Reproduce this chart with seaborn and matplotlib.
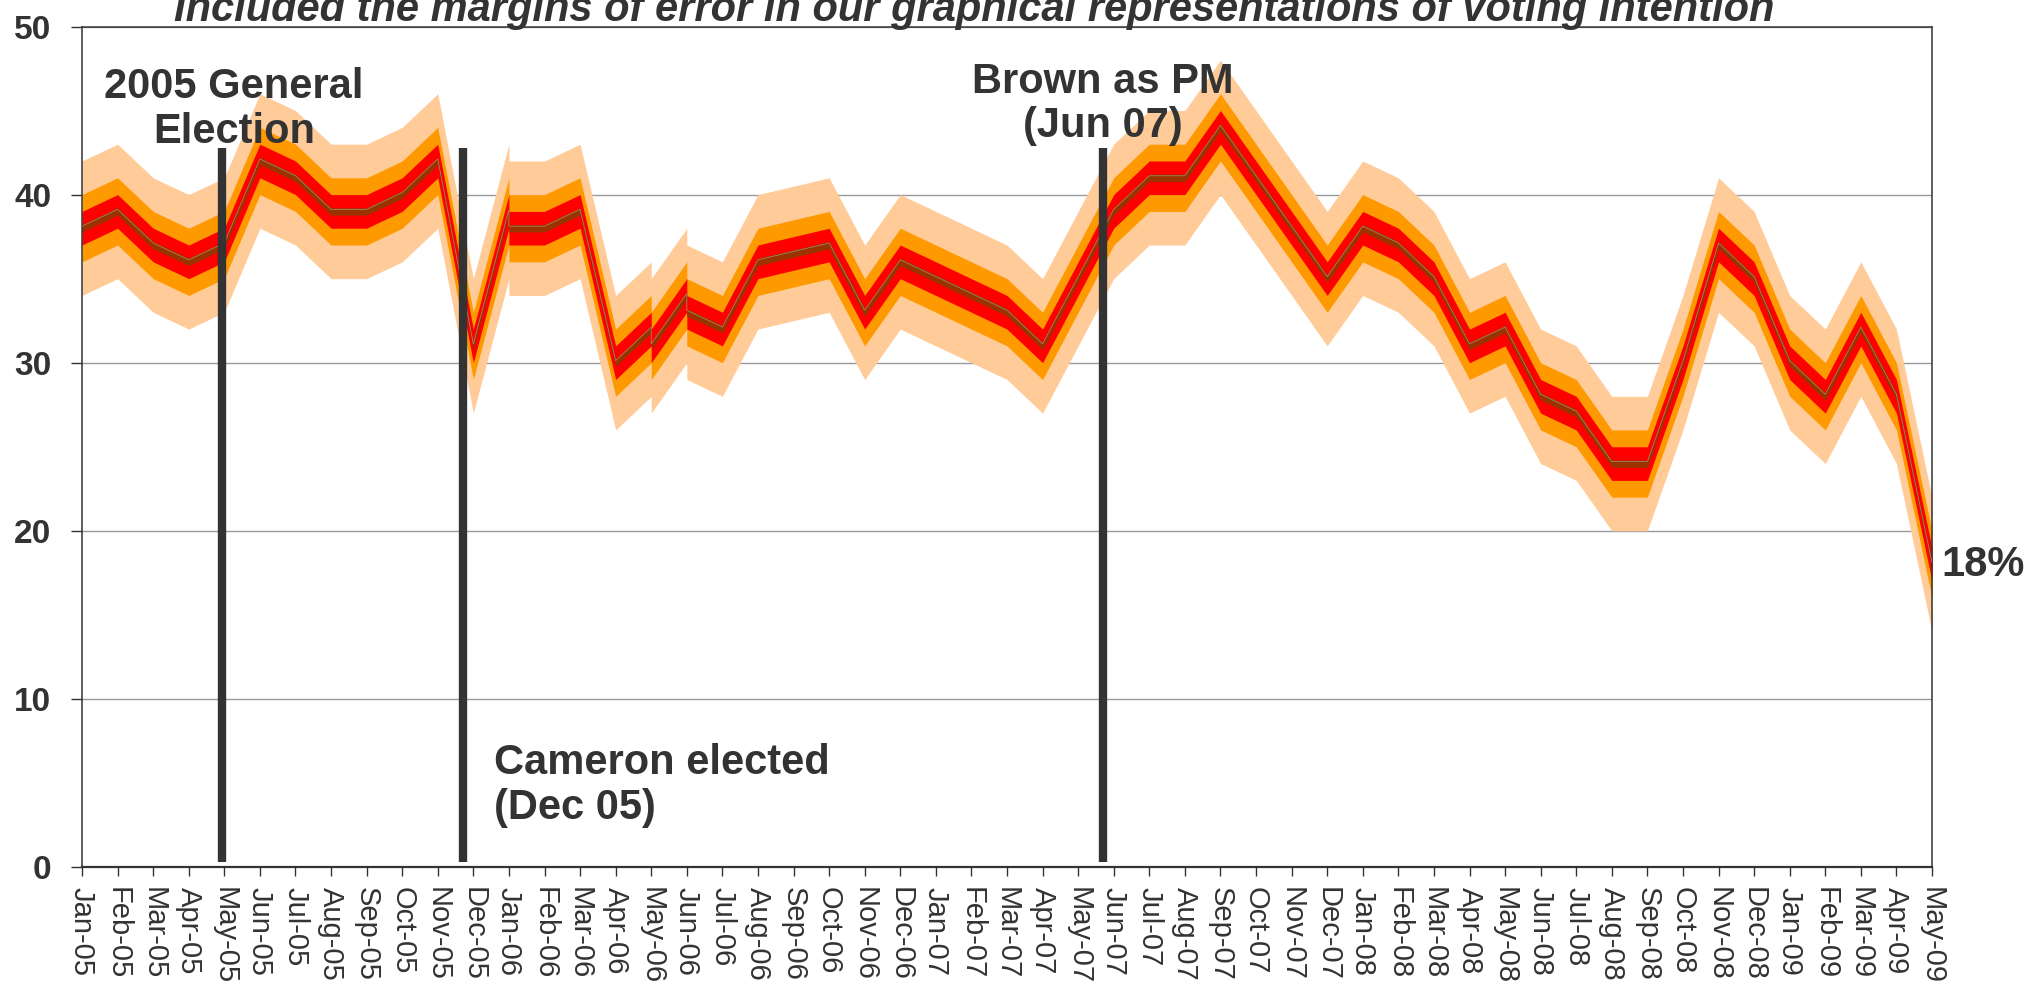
import pandas as pd
import seaborn as sns
import matplotlib.pyplot as plt

# Month axis (one tick per month)
months = [
    "Jan-05", "Feb-05", "Mar-05", "Apr-05", "May-05", "Jun-05", "Jul-05", "Aug-05",
    "Sep-05", "Oct-05", "Nov-05", "Dec-05",
    "Jan-06", "Feb-06", "Mar-06", "Apr-06", "May-06", "Jun-06", "Jul-06", "Aug-06",
    "Sep-06", "Oct-06", "Nov-06", "Dec-06",
    "Jan-07", "Feb-07", "Mar-07", "Apr-07", "May-07", "Jun-07", "Jul-07", "Aug-07",
    "Sep-07", "Oct-07", "Nov-07", "Dec-07",
    "Jan-08", "Feb-08", "Mar-08", "Apr-08", "May-08", "Jun-08", "Jul-08", "Aug-08",
    "Sep-08", "Oct-08", "Nov-08", "Dec-08",
    "Jan-09", "Feb-09", "Mar-09", "Apr-09", "May-09",
]

# Poll points (some months appear twice: the series jumps there)
point_months = [
    "Jan-05", "Feb-05", "Mar-05", "Apr-05", "May-05", "Jun-05", "Jul-05", "Aug-05",
    "Sep-05", "Oct-05", "Nov-05", "Dec-05",
    "Jan-06", "Jan-06", "Feb-06", "Mar-06", "Apr-06", "May-06", "May-06",
    "Jun-06", "Jun-06", "Jul-06", "Aug-06", "Sep-06", "Oct-06", "Nov-06", "Dec-06",
    "Jan-07", "Feb-07", "Mar-07", "Apr-07", "May-07", "Jun-07", "Jul-07", "Aug-07",
    "Sep-07", "Oct-07", "Nov-07", "Dec-07",
    "Jan-08", "Feb-08", "Mar-08", "Apr-08", "May-08", "Jun-08", "Jul-08", "Aug-08",
    "Sep-08", "Oct-08", "Nov-08", "Dec-08",
    "Jan-09", "Feb-09", "Mar-09", "Apr-09", "May-09",
]
share = [
    38, 39, 37, 36, 37, 42, 41, 39,
    39, 40, 42, 31,
    39, 38, 38, 39, 30, 32, 31,
    34, 33, 32, 36, 36.5, 37, 33, 36,
    35, 34, 33, 31, 35, 39, 41, 41,
    44, 41, 38, 35,
    38, 37, 35, 31, 32, 28, 27, 24,
    24, 30, 37, 35,
    30, 28, 32, 28, 18,
]

# margins of error (+/- points), widest first
margins = [4, 2, 1, 0.22]
band_colors = ["#FFCC99", "#FF9900", "#FF0000", "#993300"]

events = ["May-05", "Dec-05", "Jun-07"]
event_shift = [-0.07, -0.28, -0.3]

df = pd.DataFrame({"month": point_months, "share": share})
df["x"] = [months.index(m) for m in df["month"]]

sns.set_theme(style="white")
plt.rcParams["font.family"] = ["Liberation Sans", "DejaVu Sans"]

fig = plt.figure(figsize=(20.29, 9.89), dpi=100)
ax = fig.add_axes([82 / 2029, 1 - 867 / 989, 1850 / 2029, 840.5 / 989])

for m, c in zip(margins, band_colors):
    ax.fill_between(df["x"], df["share"] - m, df["share"] + m,
                    color=c, linewidth=0, zorder=2)

# thin pale line along the top of the brown core
sns.lineplot(x=df["x"], y=df["share"] + 0.12, estimator=None, sort=False,
             color="#a8825e", linewidth=0.6, ax=ax, zorder=3)

ax.set_xlim(0, len(months) - 1)
ax.set_ylim(0, 50)
ax.set_xticks(range(len(months)))
ax.set_xticklabels(months, rotation=-90, fontsize=21, color="#333333")
ax.set_yticks(range(0, 51, 10))
ax.set_yticklabels([str(v) for v in range(0, 51, 10)],
                   fontsize=24, fontweight="bold", color="#333333")
ax.set_xlabel("")
ax.set_ylabel("")

ax.yaxis.grid(True, color="#999999", linewidth=1.0)
ax.set_axisbelow(True)
ax.tick_params(axis="y", direction="out", length=8, width=1, color="#333333", pad=14, left=True)
ax.tick_params(axis="x", direction="out", length=6.5, width=1, color="#333333", pad=8, bottom=True)
for side, spine in ax.spines.items():
    spine.set_color("#333333")
    spine.set_linewidth(1.1)
ax.spines["bottom"].set_linewidth(1.6)

# event markers
for ev, sh in zip(events, event_shift):
    ax.vlines(months.index(ev) + sh, 0.3, 42.8, color="#333333", linewidth=6, zorder=4)

# va="baseline" pins the last line of a multi-line text
note = dict(fontsize=30, fontweight="bold", color="#333333", va="baseline", linespacing=1.15)
ax.text(4.27, 43.07, "2005 General\nElection", ha="center", **note)
ax.text(11.57, 2.86, "Cameron elected\n(Dec 05)", ha="left", **note)
ax.text(28.69, 43.4, "Brown as PM\n(Jun 07)", ha="center", **note)
ax.text(52.25, 17.3, f"{share[-1]:.0f}%", ha="left", clip_on=False, **note)

fig.text(974 / 2029, 1 - 20.7 / 989,
         "Included the margins of error in our graphical representations of voting intention",
         ha="center", va="baseline", fontsize=30, fontweight="bold", fontstyle="italic",
         color="#333333")

fig.savefig("out.png", dpi=100)
